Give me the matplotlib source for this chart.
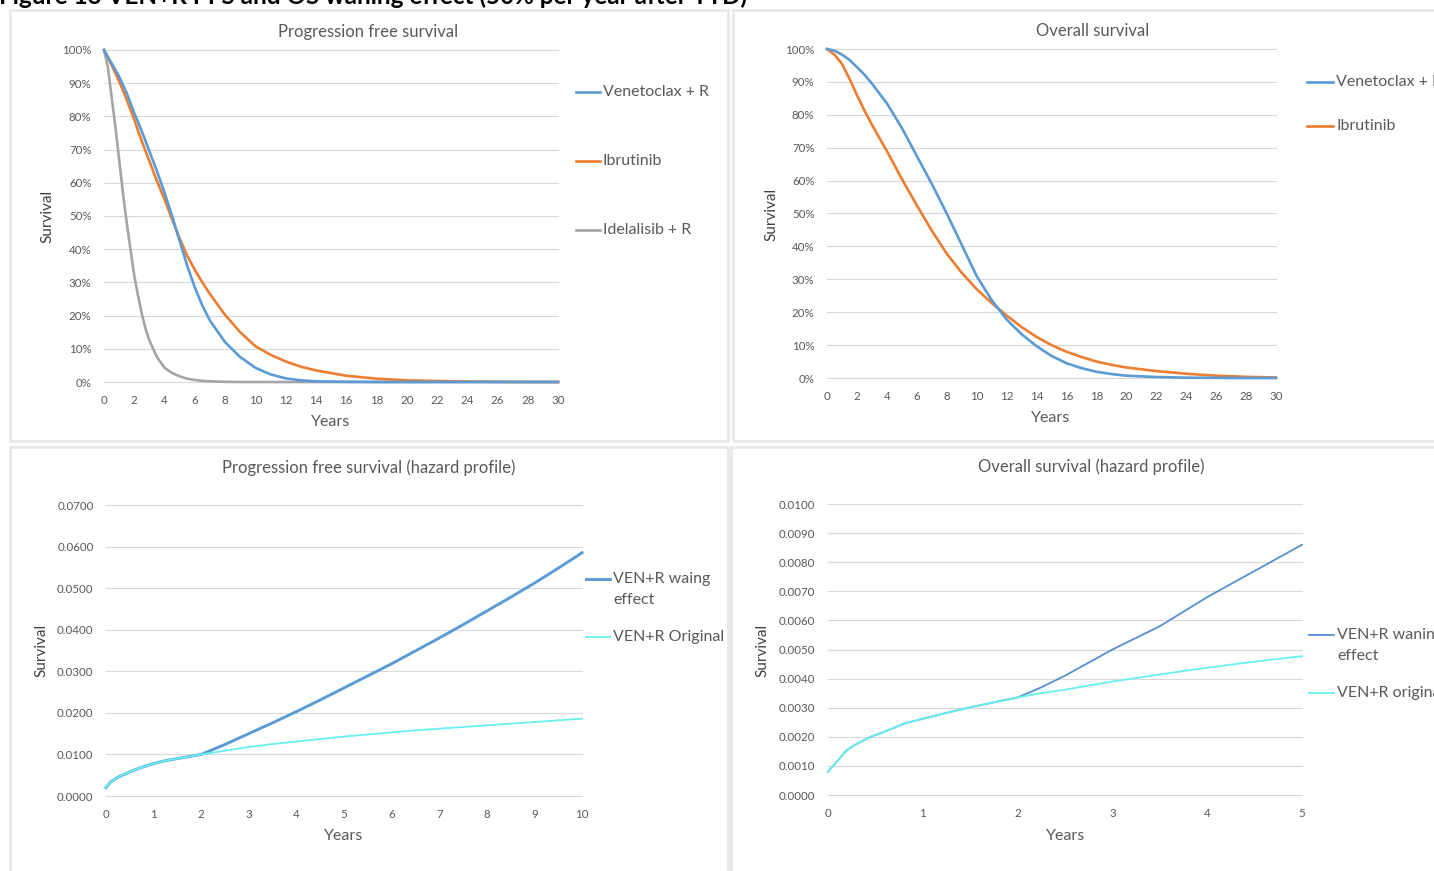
import matplotlib
matplotlib.use("Agg")
import matplotlib.pyplot as plt
from matplotlib.patches import Rectangle
from matplotlib.lines import Line2D
from matplotlib.ticker import PercentFormatter, FormatStrFormatter, MultipleLocator

W, H = 1434, 871
plt.rcParams['font.family'] = ['Lato', 'DejaVu Sans']

# ---- data ----
pfs_years = [0, 0.25, 0.5, 0.75, 1, 1.25, 1.5, 1.75, 2, 2.25, 2.5, 2.75, 3, 3.5, 4, 4.5, 5, 5.5,
             6, 6.5, 7, 8, 9, 10, 11, 12, 13, 14, 16, 18, 20, 22, 24, 26, 28, 30]
ven_pfs = [1.00, 0.98, 0.96, 0.94, 0.92, 0.895, 0.87, 0.84, 0.81, 0.783, 0.755, 0.725, 0.695, 0.635,
           0.57, 0.50, 0.425, 0.35, 0.285, 0.23, 0.185, 0.12, 0.075, 0.043, 0.023, 0.011, 0.005,
           0.002, 0.0005, 0, 0, 0, 0, 0, 0, 0]
ibr_pfs = [1.00, 0.978, 0.955, 0.93, 0.905, 0.878, 0.85, 0.82, 0.79, 0.757, 0.725, 0.695, 0.665, 0.605,
           0.55, 0.49, 0.432, 0.38, 0.338, 0.30, 0.265, 0.202, 0.15, 0.108, 0.082, 0.062, 0.046,
           0.035, 0.019, 0.010, 0.005, 0.003, 0.0015, 0.0005, 0, 0]
ide_pfs = [1.00, 0.95, 0.86, 0.77, 0.67, 0.57, 0.48, 0.40, 0.32, 0.26, 0.205, 0.16, 0.125, 0.075,
           0.043, 0.027, 0.017, 0.010, 0.006, 0.0035, 0.002, 0.0005, 0, 0, 0, 0, 0,
           0, 0, 0, 0, 0, 0, 0, 0, 0]

os_years = [0, 0.5, 1, 1.5, 2, 2.5, 3, 4, 5, 6, 7, 8, 9, 10, 11, 12, 13, 14, 15, 16, 17, 18,
            19, 20, 22, 24, 26, 28, 30]
ven_os = [1.00, 0.995, 0.983, 0.967, 0.945, 0.922, 0.895, 0.835, 0.76, 0.675, 0.59, 0.50, 0.405,
          0.31, 0.237, 0.178, 0.133, 0.097, 0.067, 0.045, 0.030, 0.019, 0.012, 0.007, 0.003,
          0.001, 0.0005, 0, 0]
ibr_os = [1.00, 0.983, 0.955, 0.91, 0.86, 0.813, 0.77, 0.69, 0.605, 0.525, 0.448, 0.378, 0.32,
          0.27, 0.228, 0.19, 0.155, 0.125, 0.10, 0.08, 0.064, 0.05, 0.04, 0.032, 0.021, 0.013,
          0.007, 0.0035, 0.0015]

pfs_hz_years = [0, 0.1, 0.25, 0.5, 0.75, 1, 1.25, 1.5, 1.75, 2, 2.5, 3, 3.5, 4, 4.5, 5, 5.5,
                6, 6.5, 7, 7.5, 8, 8.5, 9, 9.5, 10]
pfs_hz_orig = [0.0020, 0.0034, 0.0045, 0.0058, 0.0069, 0.0078, 0.0085, 0.0090, 0.0095, 0.0100,
               0.0109, 0.0118, 0.0125, 0.0131, 0.0137, 0.0143, 0.0148, 0.0153, 0.0158, 0.0162,
               0.0166, 0.0170, 0.0174, 0.0178, 0.0182, 0.0186]
pfs_hz_wane = [0.0020, 0.0034, 0.0045, 0.0058, 0.0069, 0.0078, 0.0085, 0.0090, 0.0095, 0.0100,
               0.0124, 0.0150, 0.0176, 0.0203, 0.0231, 0.0260, 0.0289, 0.0318, 0.0349, 0.0380,
               0.0412, 0.0445, 0.0478, 0.0512, 0.0548, 0.0585]

os_hz_years = [0, 0.05, 0.1, 0.2, 0.3, 0.45, 0.6, 0.8, 1, 1.2, 1.4, 1.6, 1.8, 2, 2.25, 2.5,
               2.75, 3, 3.25, 3.5, 3.75, 4, 4.25, 4.5, 4.75, 5]
os_hz_orig = [0.0008, 0.00098, 0.00117, 0.00155, 0.00175, 0.0020, 0.00218, 0.00245, 0.00262,
              0.00278, 0.00294, 0.00308, 0.00322, 0.00335, 0.0035, 0.00362, 0.00376, 0.0039,
              0.00402, 0.00414, 0.00426, 0.00437, 0.00448, 0.00458, 0.00468, 0.00477]
os_hz_wane = [0.0008, 0.00098, 0.00117, 0.00155, 0.00175, 0.0020, 0.00218, 0.00245, 0.00262,
              0.00278, 0.00294, 0.00308, 0.00322, 0.00335, 0.0037, 0.0041, 0.00455, 0.0050,
              0.0054, 0.0058, 0.0063, 0.0068, 0.00725, 0.0077, 0.00815, 0.0086]

BLUE, ORANGE, GREY, CYAN = '#5B9BD5', '#ED7D31', '#A5A5A5', '#66F0F0'
TXT = '#595959'
FS = 11.5

fig = plt.figure(figsize=(W / 100, H / 100), dpi=100)


def fx(px):
    return px / W


def fy(py):
    return 1 - py / H


def panel(x0, y0, x1, y1):
    fig.add_artist(Rectangle((fx(x0), fy(y1)), fx(x1 - x0), (y1 - y0) / H,
                             transform=fig.transFigure, fill=False, ec='#E8E8E8', lw=2))


def axes(x0, ytop, x1, ybot):
    return fig.add_axes([fx(x0), fy(ybot), fx(x1 - x0), (ybot - ytop) / H])


def style(ax, xmax, xstep, ymax, ystep, fmt):
    ax.set_xlim(0, xmax)
    ax.set_ylim(0, ymax)
    ax.xaxis.set_major_locator(MultipleLocator(xstep))
    ax.yaxis.set_major_locator(MultipleLocator(ystep))
    ax.yaxis.set_major_formatter(fmt)
    for s in ax.spines.values():
        s.set_visible(False)
    ax.grid(axis='y', color='#D9D9D9', lw=0.8)
    ax.set_axisbelow(True)
    for g in ax.get_ygridlines():
        g.set_clip_on(False)
    ax.tick_params(length=0, labelsize=8.3, labelcolor=TXT)
    ax.tick_params(axis='y', pad=9)
    ax.tick_params(axis='x', pad=9)


def labels(title, tx, ty, sx, sy, yx, yy):
    fig.text(fx(tx), fy(ty), title, ha='center', va='center', fontsize=12, color=TXT)
    fig.text(fx(sx), fy(sy), 'Survival', ha='center', va='center', rotation=90,
             fontsize=11, color='#404040')
    fig.text(fx(yx), fy(yy), 'Years', ha='center', va='center', fontsize=11.5, color=TXT)


def key(x0, x1, y, color, lw, label):
    fig.add_artist(Line2D([fx(x0), fx(x1)], [fy(y), fy(y)], transform=fig.transFigure,
                          color=color, lw=lw))
    if '\n' in label:
        fig.text(fx(x1 + 3), fy(y - 7), label, ha='left', va='top', fontsize=FS,
                 color=TXT, linespacing=1.65)
    else:
        fig.text(fx(x1 + 3), fy(y), label, ha='left', va='center', fontsize=FS, color=TXT)


fig.text(-0.001, fy(3.5), 'Figure 13 VEN+R PFS and OS waning effect (50% per year after TTD)',
         ha='left', va='baseline', fontsize=17.5, fontweight='bold', color='black')

panel(10, 10, 728, 441)
panel(733, 10, 1440, 441)
panel(10, 447, 728, 878)
panel(731, 447, 1440, 878)

# PFS
ax1 = axes(104, 50, 558, 382)
style(ax1, 30, 2, 1.0, 0.1, PercentFormatter(1.0, decimals=0))
ax1.plot(pfs_years, ide_pfs, color=GREY, lw=1.9, clip_on=False)
ax1.plot(pfs_years, ibr_pfs, color=ORANGE, lw=1.9, clip_on=False)
ax1.plot(pfs_years, ven_pfs, color=BLUE, lw=1.9, clip_on=False)
labels('Progression free survival', 368, 32, 47, 216, 331, 422)
key(576, 600, 92, BLUE, 1.9, 'Venetoclax + R')
key(576, 600, 161, ORANGE, 1.9, 'Ibrutinib')
key(576, 600, 230, GREY, 1.9, 'Idelalisib + R')

# OS
ax2 = axes(827, 49, 1276, 378)
style(ax2, 30, 2, 1.0, 0.1, PercentFormatter(1.0, decimals=0))
ax2.plot(os_years, ibr_os, color=ORANGE, lw=1.9, clip_on=False)
ax2.plot(os_years, ven_os, color=BLUE, lw=1.9, clip_on=False)
labels('Overall survival', 1093, 31, 771, 214, 1051, 418)
key(1307, 1333, 82, BLUE, 1.9, 'Venetoclax + R')
key(1307, 1333, 126, ORANGE, 1.9, 'Ibrutinib')

# PFS hazard
ax3 = axes(106, 505, 582, 796)
style(ax3, 10, 1, 0.07, 0.01, FormatStrFormatter('%.4f'))
ax3.plot(pfs_hz_years, pfs_hz_wane, color=BLUE, lw=2.1, clip_on=False)
ax3.plot(pfs_hz_years, pfs_hz_orig, color=CYAN, lw=1.3, clip_on=False)
labels('Progression free survival (hazard profile)', 369, 468, 41, 650, 344, 836)
key(586, 610, 579, BLUE, 2.1, 'VEN+R waing\neffect')
key(586, 610, 637, CYAN, 1.3, 'VEN+R Original')

# OS hazard
ax4 = axes(828, 504, 1302, 795)
style(ax4, 5, 1, 0.01, 0.001, FormatStrFormatter('%.4f'))
ax4.plot(os_hz_years, os_hz_wane, color='#5690D0', lw=1.3, clip_on=False)
ax4.plot(os_hz_years, os_hz_orig, color=CYAN, lw=1.3, clip_on=False)
labels('Overall survival (hazard profile)', 1091, 467, 762, 650, 1066, 836)
key(1309, 1334, 635, '#5690D0', 1.3, 'VEN+R waning\neffect')
key(1309, 1334, 693, CYAN, 1.3, 'VEN+R original')

fig.savefig('out.png', dpi=100)
